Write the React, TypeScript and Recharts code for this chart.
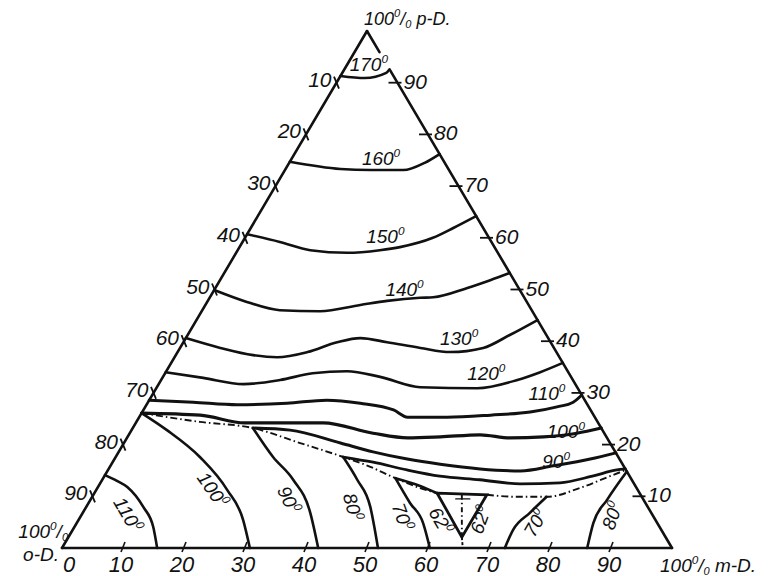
import React from "react";
import { LineChart, Line, XAxis, YAxis, ReferenceDot } from "recharts";

// every point is [m-D %, p-D %]; o-D is the rest
type Pt = [number, number];

const c170: Pt[] = [[0, 91.3], [4.2, 90.9], [7.2, 91.9], [7.4, 92.6]];
const c160: Pt[] = [[0, 74.7], [9, 73.3], [14, 73.1], [19.4, 73.1], [22.2, 74.5], [23.8, 76.2]];
const c150: Pt[] = [[0, 60.7], [6.1, 59.2], [11.9, 57.6], [18.2, 57.1], [23.3, 57.6], [26.3, 58.2], [30.8, 60], [33.2, 61.9], [35.8, 64.2]];
const c140: Pt[] = [[0, 49.9], [6.5, 47.6], [12.7, 46], [19.4, 45.8], [25.4, 47], [29.4, 47.8], [34.5, 48.4], [36.6, 48.5], [41.3, 50.3], [44.3, 51.8], [46.8, 53.2]];
const c130: Pt[] = [[0, 40.6], [6.6, 38.7], [12.7, 37.3], [16.8, 36.9], [21.3, 37.9], [25.2, 39.8], [28.6, 40.6], [33.4, 39.8], [39.4, 38.7], [44.7, 37.9], [49.7, 38.7], [52.8, 41.2], [55.9, 44.1]];
const c120: Pt[] = [[0, 34], [6.7, 32.9], [13.9, 31.7], [19.5, 32.5], [24.2, 33.8], [29.6, 34.2], [35.6, 33.1], [43.2, 31.1], [52.6, 30.9], [58.4, 32.5], [61.4, 34], [64.2, 35.8]];
const c110: Pt[] = [[0, 28.6], [7.4, 28.2], [14.9, 27.7], [22.9, 28], [29.1, 28.6], [34.9, 28], [41, 26.7], [44, 25.3], [50.5, 25.3], [57.4, 25.7], [63.6, 26.3], [67.5, 27.3], [69.7, 28.2], [70.4, 29.6]];
const c100: Pt[] = [[0, 26.1], [9.8, 25.7], [17.9, 24.2], [22.5, 24.2], [30.7, 24.2], [39.9, 22.2], [46, 21.3], [51.3, 21.5], [57.6, 21.9], [62.8, 21.3], [68.2, 21.5], [73.3, 22.2], [76.8, 23.2]];
const c90: Pt[] = [[19.7, 23.2], [26, 22.8], [35.5, 20.3], [41.7, 18.6], [48, 17.2], [53.9, 16.2], [60.9, 15.3], [67.7, 14.9], [72.6, 15.9], [78, 17.2], [81.6, 18.4]];
const c80: Pt[] = [[37.3, 17.6], [42.7, 16.6], [49, 15.1], [55, 13.9], [61.9, 13.2], [68.9, 12.4], [75.3, 12.6], [80, 13.9], [83.4, 15.1], [84.7, 15.3]];
const c70: Pt[] = [[47.9, 13.5], [52.7, 12], [56.2, 10.6]];

// o-D field
const a110: Pt[] = [[0, 14.1], [2.5, 13], [4.8, 11.8], [9.4, 7.9], [12.9, 4.1], [15.6, 0]];
const a100: Pt[] = [[0, 26.1], [5.8, 22.8], [13.8, 17.6], [21.5, 11.2], [27, 5.4], [30.8, 0]];
const a90: Pt[] = [[19.7, 23.2], [25.8, 17.6], [31.3, 13.2], [37.3, 6.8], [42, 0]];
const a80: Pt[] = [[37.3, 17.6], [41.8, 13.2], [46.6, 7.9], [51.8, 0]];
const a70: Pt[] = [[47.9, 13.5], [52.7, 8.7], [56.8, 4.8], [60.3, 0]];
// m-D field
const m70: Pt[] = [[72.6, 0], [72.2, 3.5], [73.3, 6.8], [74.5, 9.9]];
const m80: Pt[] = [[86.1, 0], [84.7, 4.8], [84.7, 9.3], [85.2, 14.8]];

// boundary curves
const opValley: Pt[] = [[0, 26.1], [10.4, 24.4], [19.7, 23.2], [28.9, 20.3], [37.3, 17.6], [42.7, 15.7], [47.9, 13.5], [52.9, 11.6], [56.2, 10.6]];
const mpValley: Pt[] = [[64.5, 10.3], [69.7, 9.9], [74.5, 9.9], [79.1, 11.6], [82.9, 13.9], [84.9, 15.1]];
const innerValley: Pt[] = [[60.4, 10.3], [64.5, 2.1]];
const omValley: Pt[] = [[64.5, 2.1], [65.7, 0]];
const eutTri: Pt[] = [[56.2, 10.6], [64.5, 10.3], [64.5, 2.1], [56.2, 10.6]];
const eutT: Pt[] = [[59.8, 9.5], [62.1, 9.5]];

const sideLeft: Pt[] = [[0, 0], [0, 100]];
const sideBottom: Pt[] = [[0, 0], [100, 0]];
const sideRight1: Pt[] = [[0, 100], [4.1, 95.9]];
const sideRight2: Pt[] = [[7.6, 92.4], [100, 0]];

const ticks = [10, 20, 30, 40, 50, 60, 70, 80, 90];
const bottomLabels = [0, 10, 20, 30, 40, 50, 60, 70, 80, 90];

const isoLabels = [
  { t: "170", m: 3.6, p: 93.4, r: 0 },
  { t: "160", m: 14.7, p: 75.2, r: 0 },
  { t: "150", m: 22.9, p: 60.2, r: 0 },
  { t: "140", m: 31.2, p: 49.9, r: 0 },
  { t: "130", m: 44.9, p: 40.4, r: 0 },
  { t: "120", m: 52.7, p: 33.7, r: 0 },
  { t: "110", m: 64.6, p: 29.8, r: 0 },
  { t: "100", m: 71.4, p: 22.4, r: 0 },
  { t: "90", m: 72.7, p: 16.6, r: 0 },
  { t: "110", m: 7.5, p: 6.4, r: 60 },
  { t: "100", m: 19, p: 11.2, r: 55 },
  { t: "90", m: 32.4, p: 9.3, r: 65 },
  { t: "80", m: 43.6, p: 7.9, r: 75 },
  { t: "70", m: 52.7, p: 6, r: 70 },
  { t: "62", m: 59.4, p: 5.2, r: 60 },
  { t: "62", m: 66, p: 5.4, r: -70 },
  { t: "70", m: 75.3, p: 4.8, r: -60 },
  { t: "80", m: 87.2, p: 6.2, r: -70 },
];

const xy = (pts: Pt[]) => pts.map(([m, p]) => ({ x: m + p / 2, y: p }));

const FONT = "'Liberation Sans', Arial, sans-serif";
const INK = "#111";

const solid = (pts: Pt[], key: string, w = 2.6, type: "monotone" | "linear" = "monotone") => (
  <Line
    key={key}
    data={xy(pts)}
    dataKey="y"
    type={type}
    stroke={INK}
    strokeWidth={w}
    strokeLinecap="round"
    dot={false}
    activeDot={false}
    isAnimationActive={false}
  />
);

const dashed = (pts: Pt[], key: string, dash: string) => (
  <Line
    key={key}
    data={xy(pts)}
    dataKey="y"
    type="monotone"
    stroke={INK}
    strokeWidth={1.9}
    strokeDasharray={dash}
    dot={false}
    activeDot={false}
    isAnimationActive={false}
  />
);

const sup = (size: number) => (
  <tspan dy={-size * 0.42} fontSize={size * 0.62}>0</tspan>
);

const App = () => {
  return (
    <div style={{ position: "absolute", left: 0, top: 0 }}>
      <LineChart width={773} height={576} margin={{ top: 31, right: 101, bottom: 28, left: 62 }}>
        <XAxis type="number" dataKey="x" domain={[0, 100]} hide />
        <YAxis type="number" dataKey="y" domain={[0, 100]} hide />

        {solid(sideLeft, "sl", 2.6, "linear")}
        {solid(sideBottom, "sb", 2.6, "linear")}
        {solid(sideRight1, "sr1", 2.6, "linear")}
        {solid(sideRight2, "sr2", 2.6, "linear")}

        {solid(c170, "c170")}
        {solid(c160, "c160")}
        {solid(c150, "c150")}
        {solid(c140, "c140")}
        {solid(c130, "c130")}
        {solid(c120, "c120")}
        {solid(c110, "c110", 3)}
        {solid(c100, "c100", 3.2)}
        {solid(c90, "c90", 3)}
        {solid(c80, "c80", 2.8)}
        {solid(c70, "c70", 2.6)}

        {solid(a110, "a110")}
        {solid(a100, "a100")}
        {solid(a90, "a90")}
        {solid(a80, "a80")}
        {solid(a70, "a70")}
        {solid(m70, "m70")}
        {solid(m80, "m80")}

        {dashed(opValley, "op", "7 3 1.5 3")}
        {dashed(mpValley, "mp", "7 3 1.5 3")}
        {dashed(innerValley, "iv", "5 3 1.5 3")}
        {dashed(omValley, "om", "3 2")}
        {solid(eutTri, "tri", 2.8, "linear")}
        {solid(eutT, "T", 1.4, "linear")}

        {ticks.map((p) => (
          <ReferenceDot
            key={"lt" + p}
            x={p / 2}
            y={p}
            r={0}
            isFront
            shape={(d: any) => (
              <g>
                <line x1={d.cx - 2.5} y1={d.cy - 6} x2={d.cx + 2.5} y2={d.cy + 6} stroke={INK} strokeWidth={1.8} />
                <text x={d.cx - 5} y={d.cy + 4} textAnchor="end" fontSize={21} fontStyle="italic" fontFamily={FONT} fill={INK}>
                  {100 - p}
                </text>
              </g>
            )}
          />
        ))}

        {ticks.map((p) => (
          <ReferenceDot
            key={"rt" + p}
            x={100 - p / 2}
            y={p}
            r={0}
            isFront
            shape={(d: any) => (
              <g>
                <line x1={d.cx - 9} y1={d.cy} x2={d.cx + 4} y2={d.cy} stroke={INK} strokeWidth={1.8} />
                <text x={d.cx + 6} y={d.cy + 6} textAnchor="start" fontSize={21} fontStyle="italic" fontFamily={FONT} fill={INK}>
                  {p}
                </text>
              </g>
            )}
          />
        ))}

        {bottomLabels.map((m) => (
          <ReferenceDot
            key={"bt" + m}
            x={m}
            y={0}
            r={0}
            isFront
            shape={(d: any) => (
              <g>
                {m > 0 && (
                  <line x1={d.cx - 2} y1={d.cy + 4} x2={d.cx + 2} y2={d.cy - 6} stroke={INK} strokeWidth={1.6} />
                )}
                <text x={d.cx + (m === 0 ? 7 : -2)} y={d.cy + 24} textAnchor="middle" fontSize={22} fontStyle="italic" fontFamily={FONT} fill={INK}>
                  {m}
                </text>
              </g>
            )}
          />
        ))}

        {isoLabels.map((l, i) => (
          <ReferenceDot
            key={"iso" + i}
            x={l.m + l.p / 2}
            y={l.p}
            r={0}
            isFront
            shape={(d: any) => (
              <text
                x={d.cx}
                y={d.cy + 6}
                textAnchor="middle"
                transform={`rotate(${l.r} ${d.cx} ${d.cy})`}
                fontSize={19}
                fontStyle="italic"
                fontFamily={FONT}
                fill={INK}
              >
                {l.t}
                {sup(19)}
              </text>
            )}
          />
        ))}

        <ReferenceDot
          x={50}
          y={100}
          r={0}
          isFront
          shape={(d: any) => (
            <text x={d.cx - 3} y={d.cy - 6} fontSize={18} fontStyle="italic" fontFamily={FONT} fill={INK}>
              100{sup(18)}
              <tspan dy={18 * 0.42}>/</tspan>
              <tspan dy={3} fontSize={11}>0</tspan>
              <tspan dy={-3}> p-D.</tspan>
            </text>
          )}
        />
        <ReferenceDot
          x={0}
          y={0}
          r={0}
          isFront
          shape={(d: any) => (
            <g>
              <text x={d.cx + 6} y={d.cy - 10} textAnchor="end" fontSize={19} fontStyle="italic" fontFamily={FONT} fill={INK}>
                100{sup(19)}
                <tspan dy={19 * 0.42}>/</tspan>
                <tspan dy={3} fontSize={11}>0</tspan>
              </text>
              <text x={d.cx - 3} y={d.cy + 13} textAnchor="end" fontSize={19} fontStyle="italic" fontFamily={FONT} fill={INK}>
                o-D.
              </text>
            </g>
          )}
        />
        <ReferenceDot
          x={100}
          y={0}
          r={0}
          isFront
          shape={(d: any) => (
            <text x={d.cx - 12} y={d.cy + 24} fontSize={19} fontStyle="italic" fontFamily={FONT} fill={INK}>
              100{sup(19)}
              <tspan dy={19 * 0.42}>/</tspan>
              <tspan dy={3} fontSize={11}>0</tspan>
              <tspan dy={-3}> m-D.</tspan>
            </text>
          )}
        />
      </LineChart>
    </div>
  );
};

export default App;
